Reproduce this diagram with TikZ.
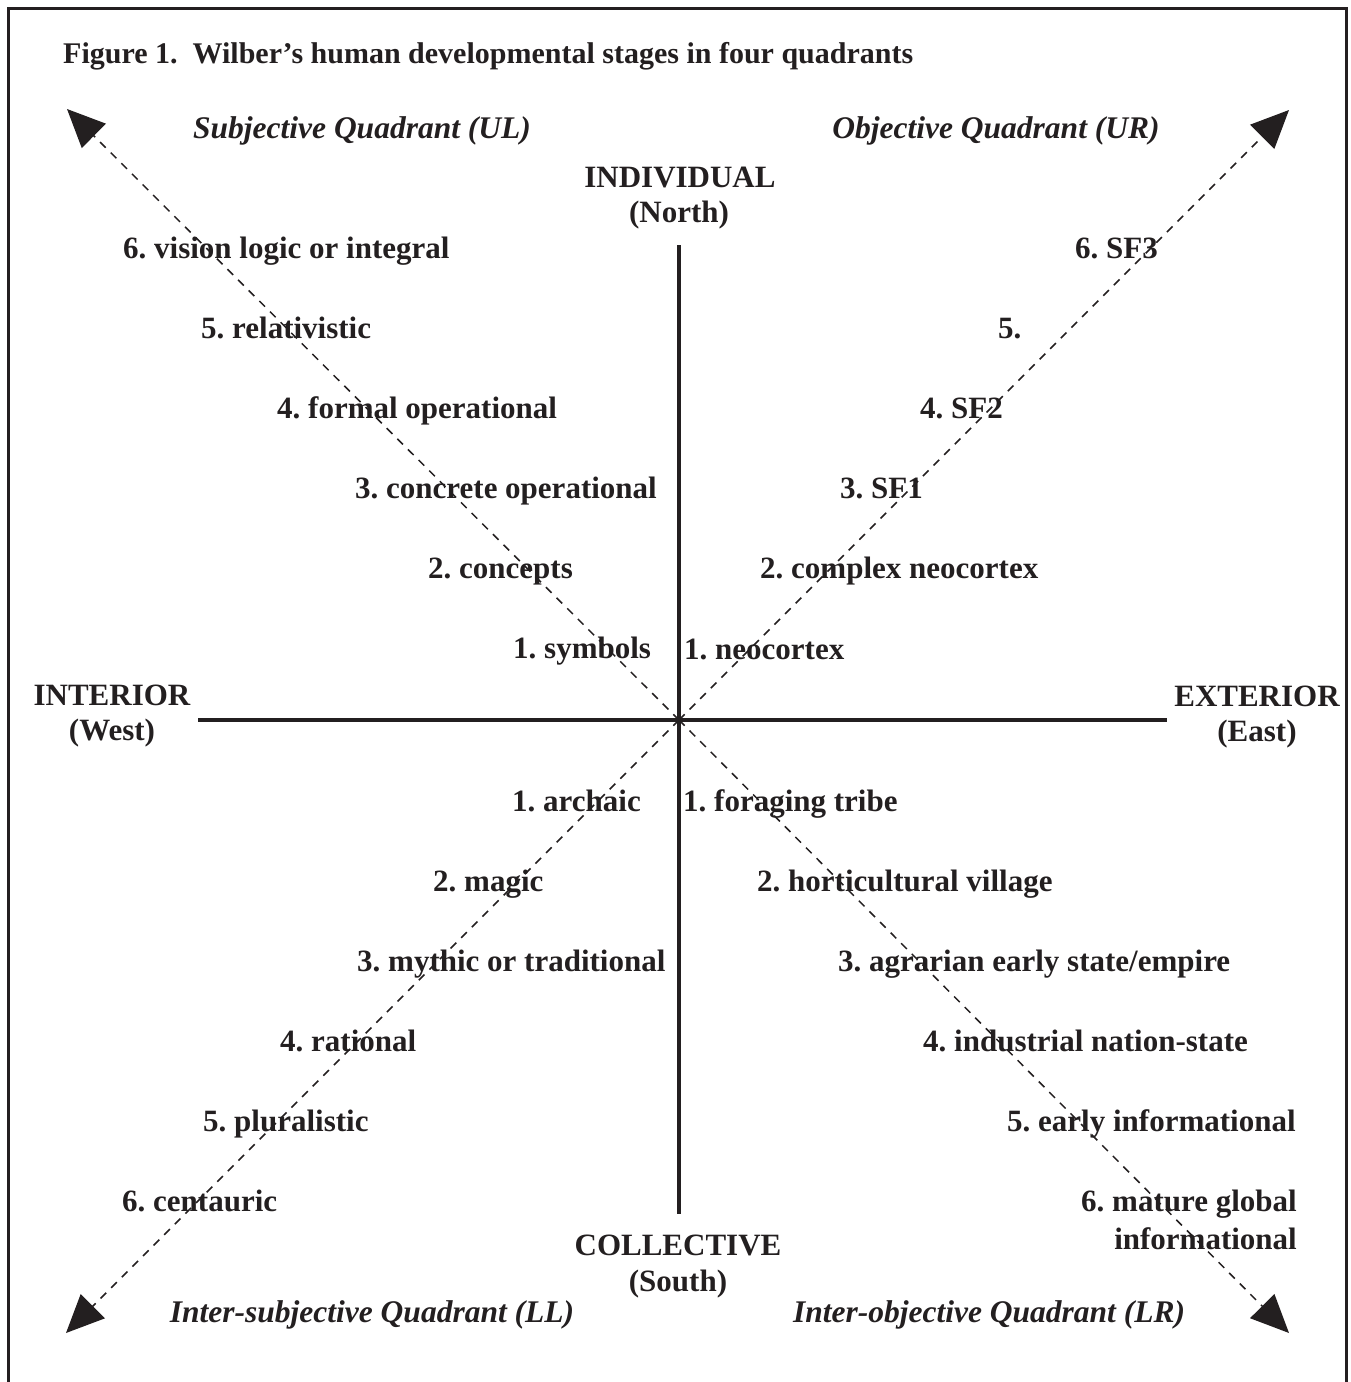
\documentclass[tikz,border=0pt]{standalone}
\usepackage{fontspec}
\setmainfont{Liberation Serif}
\usetikzlibrary{arrows.meta}
\definecolor{ink}{HTML}{231F20}
\frenchspacing
\begin{document}
\begin{tikzpicture}[x=1pt,y=-1pt,
  lbl/.style={font=\fontsize{31}{37}\selectfont\bfseries\frenchspacing, text=ink, inner sep=0pt},
  ilbl/.style={font=\fontsize{31.5}{37}\selectfont\bfseries\itshape, text=ink, inner sep=0pt},
  axis/.style={line width=4.8pt, draw=ink},
  diag/.style={line width=1.5pt, draw=ink, dash pattern=on 8pt off 7pt,
     -{Triangle[length=38pt,width=34pt]}},
  frame/.style={line width=3pt, draw=ink}]
\useasboundingbox (0,0) rectangle (1351,1382);
% frame
\coordinate (f1) at (8,1390);
\coordinate (f2) at (8,8);
\coordinate (f3) at (1346,8);
\coordinate (f4) at (1346,1390);
\draw[frame] (f1) -- (f2) -- (f3) -- (f4);
% axes
\coordinate (O) at (679,720);
\coordinate (N) at (679,245);
\coordinate (S) at (679,1214);
\coordinate (W) at (198,720);
\coordinate (E) at (1167,720);
\draw[axis] (N) -- (S);
\draw[axis] (W) -- (E);
% diagonals
\coordinate (UL) at (67,109);
\coordinate (UR) at (1289,110);
\coordinate (LL) at (66,1333);
\coordinate (LR) at (1289,1333);
\draw[diag] (O) -- (UL);
\draw[diag] (O) -- (UR);
\draw[diag] (O) -- (LL);
\draw[diag] (O) -- (LR);
% title
\node[lbl, font=\fontsize{30}{36}\selectfont\bfseries, anchor=base west] (title) at (63,63) {Figure 1.\ \ Wilber’s human developmental stages in four quadrants};
% quadrant names
\node[ilbl, anchor=base] (qul) at (362,138) {Subjective Quadrant (UL)};
\node[ilbl, anchor=base] (qur) at (996,138) {Objective Quadrant (UR)};
\node[ilbl, anchor=base] (qll) at (372,1322) {Inter-subjective Quadrant (LL)};
\node[ilbl, anchor=base] (qlr) at (989,1322) {Inter-objective Quadrant (LR)};
% directions
\node[lbl, anchor=base] (ind) at (680,187) {INDIVIDUAL};
\node[lbl, anchor=base] (north) at (679,222) {(North)};
\node[lbl, anchor=base] (col) at (678,1255) {COLLECTIVE};
\node[lbl, anchor=base] (south) at (678,1291) {(South)};
\node[lbl, anchor=base] (int) at (112,705) {INTERIOR};
\node[lbl, anchor=base] (west) at (112,740) {(West)};
\node[lbl, anchor=base] (ext) at (1257,706) {EXTERIOR};
\node[lbl, anchor=base] (east) at (1257,741) {(East)};
% upper left
\node[lbl, anchor=base west] (ul6) at (123,258) {6. vision logic or integral};
\node[lbl, anchor=base west] (ul5) at (201,338) {5. relativistic};
\node[lbl, anchor=base west] (ul4) at (277,418) {4. formal operational};
\node[lbl, anchor=base west] (ul3) at (355,498) {3. concrete operational};
\node[lbl, anchor=base west] (ul2) at (428,578) {2. concepts};
\node[lbl, anchor=base west] (ul1) at (513,658) {1. symbols};
% upper right
\node[lbl, anchor=base west] (ur1) at (684,659) {1. neocortex};
\node[lbl, anchor=base west] (ur2) at (760,578) {2. complex neocortex};
\node[lbl, anchor=base west] (ur3) at (840,498) {3. SF1};
\node[lbl, anchor=base west] (ur4) at (920,418) {4. SF2};
\node[lbl, anchor=base west] (ur5) at (998,338) {5.};
\node[lbl, anchor=base west] (ur6) at (1075,258) {6. SF3};
% lower left
\node[lbl, anchor=base west] (ll1) at (512,811) {1. archaic};
\node[lbl, anchor=base west] (ll2) at (433,891) {2. magic};
\node[lbl, anchor=base west] (ll3) at (357,971) {3. mythic or traditional};
\node[lbl, anchor=base west] (ll4) at (280,1051) {4. rational};
\node[lbl, anchor=base west] (ll5) at (203,1131) {5. pluralistic};
\node[lbl, anchor=base west] (ll6) at (122,1211) {6. centauric};
% lower right
\node[lbl, anchor=base west] (lr1) at (683,811) {1. foraging tribe};
\node[lbl, anchor=base west] (lr2) at (757,891) {2. horticultural village};
\node[lbl, anchor=base west] (lr3) at (838,971) {3. agrarian early state/empire};
\node[lbl, anchor=base west] (lr4) at (923,1051) {4. industrial nation-state};
\node[lbl, anchor=base west] (lr5) at (1007,1131) {5. early informational};
\node[lbl, anchor=base east] (lr6) at (1297,1211) {6. mature global};
\node[lbl, anchor=base east] (lr6b) at (1297,1249) {informational};
\end{tikzpicture}
\end{document}
